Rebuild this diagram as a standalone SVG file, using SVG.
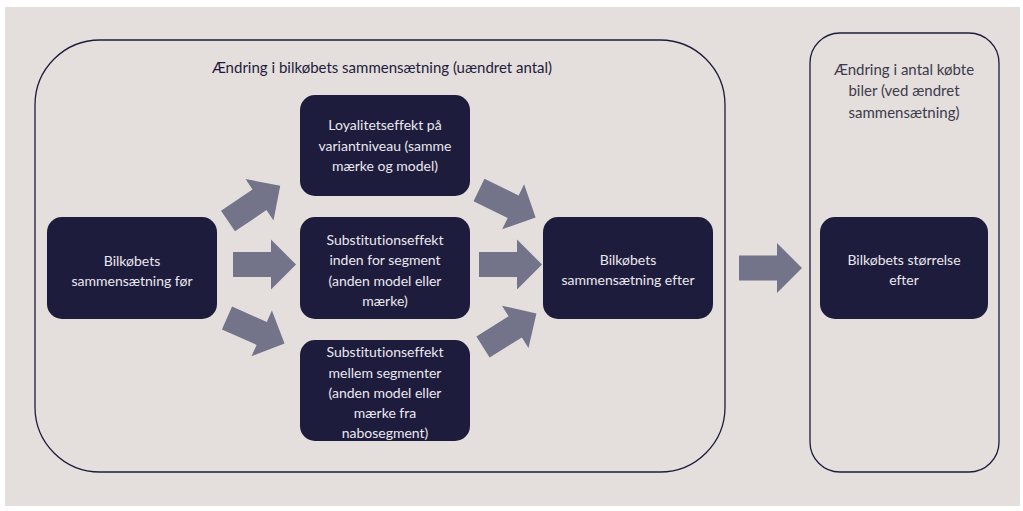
<svg xmlns="http://www.w3.org/2000/svg" width="1023" height="511" viewBox="0 0 1023 511">
<defs>
<style>
text{font-variant-ligatures:none;font-feature-settings:"liga" 0;}
.node rect{fill:#1e1c3c;}
.node text{fill:#ebe8f0;font-family:Lato,"Liberation Sans",sans-serif;font-size:14px;text-anchor:middle;}
.frame{fill:none;stroke:#1e1c3c;stroke-width:1.3;}
.ftitle{fill:#1e1c3c;font-family:Lato,"Liberation Sans",sans-serif;font-size:15px;text-anchor:middle;}
.ftitle2{fill:#3c3b4c;font-family:Lato,"Liberation Sans",sans-serif;font-size:15px;text-anchor:middle;}
.arrow{fill:#73738a;}
</style>
<polygon id="blk" points="0,-12.5 38,-12.5 38,-25 63,0 38,25 38,12.5 0,12.5"/>
</defs>
<rect x="0" y="0" width="1023" height="511" fill="#ffffff"/>
<rect x="5" y="7" width="1015" height="499" fill="#e4dedd"/>

<g id="frame-composition">
<rect class="frame" x="35" y="40" width="690" height="432" rx="65" ry="65"/>
<text class="ftitle" x="382" y="73">Ændring i bilkøbets sammensætning (uændret antal)</text>
</g>
<g id="frame-size">
<rect class="frame" x="810" y="33" width="189" height="439" rx="30" ry="30"/>
<text class="ftitle2" x="904" y="75">Ændring i antal købte</text>
<text class="ftitle2" x="904" y="96">biler (ved ændret</text>
<text class="ftitle2" x="904" y="118">sammensætning)</text>
</g>

<g id="connectors" class="arrow">
<use href="#blk" transform="translate(228,221) rotate(-34)"/>
<use href="#blk" transform="translate(233,264.5)"/>
<use href="#blk" transform="translate(227,318) rotate(24)"/>
<use href="#blk" transform="translate(479,190) rotate(26)"/>
<use href="#blk" transform="translate(479,264.5)"/>
<use href="#blk" transform="translate(483,347) rotate(-32)"/>
<use href="#blk" transform="translate(739,268)"/>
</g>

<g id="node-foer" class="node">
<rect x="47" y="217" width="170" height="102" rx="15" ry="15"/>
<text x="132" y="266">Bilkøbets</text>
<text x="132" y="286">sammensætning før</text>
</g>
<g id="node-loyalitet" class="node">
<rect x="300" y="95" width="170" height="101" rx="15" ry="15"/>
<text x="385" y="130">Loyalitetseffekt på</text>
<text x="385" y="151">variantniveau (samme</text>
<text x="385" y="171">mærke og model)</text>
</g>
<g id="node-inden" class="node">
<rect x="300" y="217" width="170" height="102" rx="15" ry="15"/>
<text x="385" y="245">Substitutionseffekt</text>
<text x="385" y="265">inden for segment</text>
<text x="385" y="286">(anden model eller</text>
<text x="385" y="306">mærke)</text>
</g>
<g id="node-mellem" class="node">
<rect x="300" y="340" width="170" height="101" rx="15" ry="15"/>
<text x="385" y="357">Substitutionseffekt</text>
<text x="385" y="378">mellem segmenter</text>
<text x="385" y="398">(anden model eller</text>
<text x="385" y="418">mærke fra</text>
<text x="385" y="438">nabosegment)</text>
</g>
<g id="node-efter" class="node">
<rect x="543" y="217" width="170" height="102" rx="15" ry="15"/>
<text x="628" y="265">Bilkøbets</text>
<text x="628" y="285">sammensætning efter</text>
</g>
<g id="node-stoerrelse" class="node">
<rect x="820" y="217" width="168" height="102" rx="15" ry="15"/>
<text x="904" y="265">Bilkøbets størrelse</text>
<text x="904" y="285">efter</text>
</g>
</svg>
